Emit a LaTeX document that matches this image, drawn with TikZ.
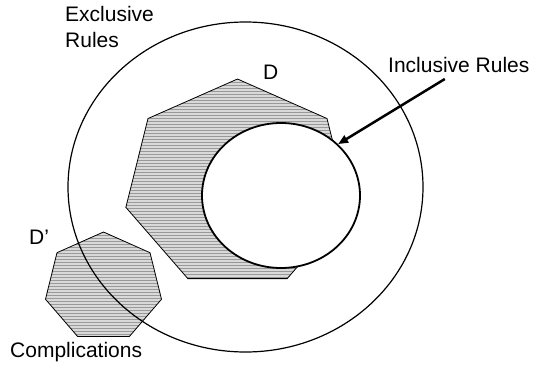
\documentclass[tikz,border=0pt]{standalone}
\usepackage{fontspec}
\setmainfont{Liberation Sans}
\usetikzlibrary{arrows.meta, patterns, shapes.geometric}
\tikzset{
    dotted set/.style={preaction={fill=gray!30}, pattern=horizontal lines, pattern color=gray!80,
        draw=black, line width=0.8pt, line join=miter},
    set label/.style={inner sep=0pt, anchor=base west, font=\fontsize{21}{26}\selectfont},
}

\begin{document}
\begin{tikzpicture}[x=1pt, y=1pt]
    \useasboundingbox (0,0) rectangle (535,365);
    \def\n{7}
    % complications D'
    \draw[dotted set, shift={(103.5,78)}] (90:59.5 and 55)
        \foreach \k in {1,...,6} { -- (90+\k*360/\n:59.5 and 55) } -- cycle;
    \node[draw, ellipse, line width=1.2pt, minimum width=355, minimum height=330, inner sep=0pt] (excl) at (245.5,178) {};
    % set D
    \draw[dotted set, shift={(237.5,181)}] (90:114.5 and 105)
        \foreach \k in {1,...,6} { -- (90+\k*360/\n:114.5 and 105) } -- cycle;
    \node[draw, ellipse, fill=white, line width=1.8pt, minimum width=158, minimum height=145, inner sep=0pt] (incl) at (281,169.5) {};
    % labels
    \node[set label, align=left, anchor=north west] (excllab) at (65,359) {Exclusive\\Rules};
    \node[set label] (dlab) at (263,286) {D};
    \node[set label] (incllab) at (388,293) {Inclusive Rules};
    \node[set label] (dprimelab) at (29,121) {D’};
    \node[set label] (complab) at (10,8) {Complications};
    \coordinate (tail) at ([xshift=-14pt, yshift=-7pt]incllab.base);
    \draw[-{Triangle[length=10pt, width=8pt]}, line width=2.5pt] (tail) -- (incl.42);
\end{tikzpicture}
\end{document}
